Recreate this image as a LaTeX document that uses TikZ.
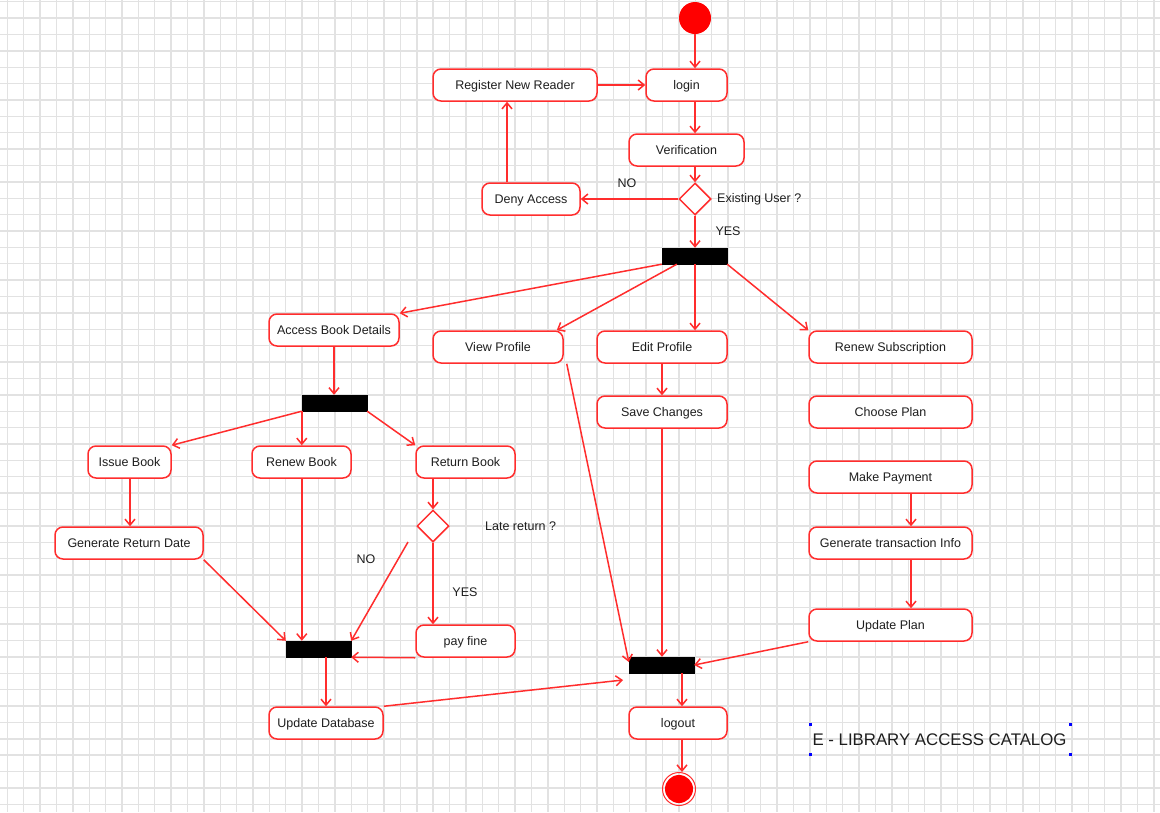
\documentclass[tikz,border=0pt]{standalone}
\usepackage{fontspec}
\setmainfont{Liberation Sans}
\usetikzlibrary{arrows.meta,shapes.geometric,calc}
\definecolor{umlred}{RGB}{255,45,45}
\definecolor{dotred}{RGB}{255,0,0}
\definecolor{gridgray}{RGB}{226,226,226}
\definecolor{txt}{RGB}{30,30,30}
\tikzset{
  act/.style={draw=umlred, fill=white, line width=1.5pt, rounded corners=8pt,
    minimum height=32pt, inner sep=0pt, text height=9pt, text depth=0pt,
    text=txt, font=\fontsize{12.5}{15}\selectfont},
  bar/.style={fill=black, draw=black, minimum width=65pt, minimum height=16pt, inner sep=0pt},
  decide/.style={diamond, draw=umlred, fill=white, line width=1.5pt, aspect=1,
    minimum width=32pt, minimum height=32pt, inner sep=0pt},
  flow/.style={draw=umlred, line width=1.5pt, -{Straight Barb[length=6pt,width=10pt]}},
  lbl/.style={text=txt, font=\fontsize{12.5}{15}\selectfont, inner sep=0pt},
  handle/.style={fill=blue, draw=none, minimum size=3pt, inner sep=0pt}
}
\begin{document}
\begin{tikzpicture}[x=1pt,y=-1pt]
\useasboundingbox (0,0) rectangle (1160,812);
\fill[white] (0,0) rectangle (1160,812);
% background grid
\foreach \k in {0,...,70} {
  \draw[gridgray, line width=1.4pt] ({7.3+16.38*\k},0) -- ({7.3+16.38*\k},812);
}
\foreach \k in {0,...,49} {
  \draw[gridgray, line width=1.4pt] (0,{1.7+16.38*\k}) -- (1160,{1.7+16.38*\k});
}

% initial node
\node[circle, fill=dotred, minimum size=32pt, inner sep=0pt] (start) at (695,18) {};

% login and verification
\node[act, minimum width=81pt] (login) at (686.5,85) {login};
\node[act, minimum width=164pt] (reg) at (515,85) {Register New Reader};
\node[act, minimum width=115pt] (verif) at (686.5,150) {Verification};
\node[decide] (dec1) at (695,199) {};
\node[act, minimum width=98pt] (deny) at (531,199) {Deny Access};
\node[lbl, anchor=west] (exu) at (717,199) {Existing User ?};
\node[lbl] (no1) at (627,183) {NO};
\node[lbl] (yes1) at (728,231) {YES};
\node[bar] (bar1) at (694.5,256) {};

% branches after the fork
\node[act, minimum width=130pt] (abd) at (334,330) {Access Book Details};
\node[act, minimum width=130pt] (vp) at (498,347) {View Profile};
\node[act, minimum width=130pt] (ep) at (662,347) {Edit Profile};
\node[act, minimum width=163pt] (rs) at (890.5,347) {Renew Subscription};
\node[act, minimum width=130pt] (sc) at (662,412) {Save Changes};
\node[act, minimum width=163pt] (cp) at (890.5,412) {Choose Plan};
\node[act, minimum width=163pt] (mp) at (890.5,477) {Make Payment};
\node[act, minimum width=163pt] (gti) at (890.5,543) {Generate transaction Info};
\node[act, minimum width=163pt] (upl) at (890.5,625) {Update Plan};

% book handling
\node[bar] (bar2) at (334.5,403) {};
\node[act, minimum width=83pt] (ib) at (129.5,462) {Issue Book};
\node[act, minimum width=99pt] (rb) at (301.5,462) {Renew Book};
\node[act, minimum width=99pt] (ret) at (465.5,462) {Return Book};
\node[decide] (dec2) at (433,526) {};
\node[lbl, anchor=west] (late) at (485,526) {Late return ?};
\node[act, minimum width=148pt] (grd) at (129,543) {Generate Return Date};
\node[lbl] (no2) at (366,559) {NO};
\node[lbl] (yes2) at (465,592) {YES};
\node[act, minimum width=99pt] (pf) at (465.5,641) {pay fine};
\node[bar] (bar3) at (318.5,649) {};
\node[act, minimum width=114pt] (ud) at (326,723) {Update Database};

% final join and exit
\node[bar] (bar4) at (661.5,665) {};
\node[act, minimum width=98pt] (lo) at (678,723) {logout};
\node[circle, draw=umlred, line width=1pt, minimum size=33pt, inner sep=0pt] (endring) at (679,789) {};
\node[circle, fill=dotred, minimum size=28pt, inner sep=0pt] (enddot) at (679,789) {};

% title with selection handles
\node[text=txt, font=\fontsize{16.8}{20}\selectfont, inner sep=0pt] (title) at (939.5,739.5) {E - LIBRARY ACCESS CATALOG};
\node[handle] (h1) at (810.5,724) {};
\node[handle] (h2) at (1070,724) {};
\node[handle] (h3) at (810.5,754.5) {};
\node[handle] (h4) at (1070,754.5) {};

% helper coordinates
\coordinate (cx911) at (911,0);
\coordinate (cx682) at (682,0);
\coordinate (cx507) at (507,0);
\coordinate (cx130) at (130,0);
\coordinate (nofree) at (408,542);
\coordinate (udend) at (623,680);

% connectors
\draw[flow] (start) -- (start |- login.north);
\draw[flow] (reg) -- (login);
\draw[flow] (login.south -| start) -- (verif.north -| start);
\draw[flow] (verif.south -| start) -- (dec1.north);
\draw[flow] (dec1.west) -- (deny.east);
\draw[flow] (deny.north -| cx507) -- (reg.south -| cx507);
\draw[flow] (dec1.south) -- (bar1.north -| dec1);

\draw[flow] (bar1.south west) -- (abd.north east);
\draw[flow] ($(bar1.south west)!0.23!(bar1.south east)$) -- ([xshift=-7pt]vp.north east);
\draw[flow] (bar1.south -| dec1) -- (ep.north -| dec1);
\draw[flow] (bar1.south east) -- (rs.north west);
\draw[flow] (ep) -- (sc);

\draw[flow] (abd.south) -- (abd.south |- bar2.north);
\draw[flow] (bar2.south west) -- (ib.north east);
\draw[flow] (bar2.south west) -- (bar2.south west |- rb.north);
\draw[flow] (bar2.south east) -- (ret.north west);
\draw[flow] (ib.south -| cx130) -- (grd.north -| cx130);
\draw[flow] (dec2 |- ret.south) -- (dec2.north);
\draw[flow] (dec2.south) -- (dec2.south |- pf.north);
\draw[flow] (nofree) -- (bar3.north east);
\draw[flow] (grd.south east) -- (bar3.north west);
\draw[flow] (bar2.south west |- rb.south) -- (bar2.south west |- bar3.north);
\draw[flow] (pf.south west) -- (bar3.south east);
\draw[flow] (ud.north |- bar3.south) -- (ud.north);
\draw[flow] (ud.north east) -- (udend);

\draw[flow] ([xshift=3pt]vp.south east) -- ([yshift=3pt]bar4.west);
\draw[flow] (sc.south) -- (sc.south |- bar4.north);
\draw[flow] (upl.south west) -- (bar4.east);
\draw[flow] (bar4.south -| cx682) -- (lo.north -| cx682);
\draw[flow] (lo.south -| cx682) -- (endring.north -| cx682);

\draw[flow] (mp.south -| cx911) -- (gti.north -| cx911);
\draw[flow] (gti.south -| cx911) -- (upl.north -| cx911);
\end{tikzpicture}
\end{document}
